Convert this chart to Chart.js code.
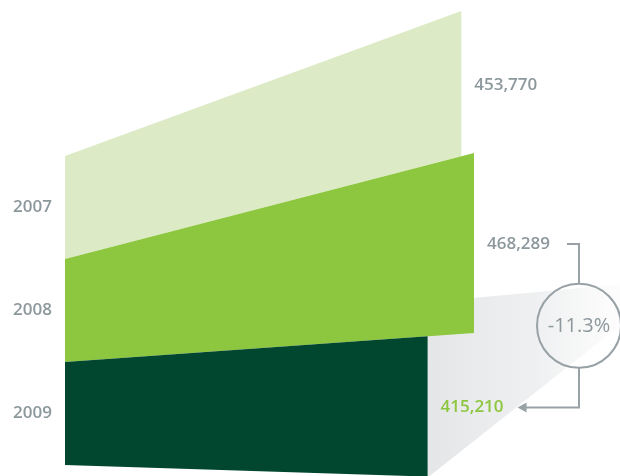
<!DOCTYPE html>
<html>
<head>
<meta charset="utf-8">
<script src="https://cdn.jsdelivr.net/npm/chart.js@4.4.1/dist/chart.umd.min.js"></script>
<style>
  html, body { margin: 0; padding: 0; background: #ffffff; }
  canvas { display: block; }
</style>
</head>
<body>
<canvas id="c" width="620" height="476"></canvas>
<script>
// ---- data ----
const years = ['2007', '2008', '2009'];
const totals = [453770, 468289, 415210];

// ---- style ----
const barColors = ['#dcebc5', '#8dc63f', '#01462f'];
const valueColors = ['#8c989c', '#8c989c', '#8dc63f'];
const edgeSlopes = [-0.366, -0.259, -0.071, 0.032]; // slant of each bar edge (top of bar i, bottom = i+1)
const GRAY = '#8c989c';
const LINE = '#98a2a6';
const FONT = '"Open Sans", "Noto Sans", sans-serif';

const fmt = v => v.toLocaleString('en-US');

const skewPlugin = {
  id: 'skewBars',
  beforeDatasetsDraw(chart) {
    const ctx = chart.ctx;
    const meta = chart.getDatasetMeta(0);
    const W = chart.width;
    const bars = meta.data.map(el => el.getProps(['x', 'y', 'base', 'height'], true));
    const geo = bars.map((b, i) => {
      const top = b.y - b.height / 2, bot = b.y + b.height / 2;
      const w = b.x - b.base;
      return {
        l: b.base, r: b.x,
        tl: top, bl: bot,
        tr: top + edgeSlopes[i] * w,
        br: bot + edgeSlopes[i + 1] * w
      };
    });

    // shadow behind last bar
    const g9 = geo[2];
    ctx.save();
    const grad = ctx.createLinearGradient(g9.r, 0, W - 10, 0);
    grad.addColorStop(0, 'rgba(228,230,231,1)');
    grad.addColorStop(0.6, 'rgba(239,240,241,1)');
    grad.addColorStop(1, 'rgba(252,252,252,1)');
    ctx.fillStyle = grad;
    ctx.beginPath();
    ctx.moveTo(g9.r, g9.tr - 34);
    ctx.lineTo(W, g9.tr - 52);
    ctx.lineTo(W, g9.br - 151);
    ctx.lineTo(g9.r, g9.br + 1);
    ctx.closePath();
    ctx.fill();
    ctx.restore();

    // bars
    geo.forEach((g, i) => {
      ctx.save();
      ctx.fillStyle = barColors[i];
      ctx.beginPath();
      ctx.moveTo(g.l, g.tl);
      ctx.lineTo(g.r, g.tr);
      ctx.lineTo(g.r, g.br);
      ctx.lineTo(g.l, g.bl);
      ctx.closePath();
      ctx.fill();
      ctx.restore();
    });

    // value labels
    const labelPos = [];
    ctx.save();
    ctx.font = '600 17px ' + FONT;
    ctx.textBaseline = 'middle';
    ctx.textAlign = 'left';
    geo.forEach((g, i) => {
      const y = (g.tr + g.br) / 2 + 1;
      const x = g.r + 13;
      ctx.fillStyle = valueColors[i];
      const t = fmt(totals[i]);
      ctx.fillText(t, x, y);
      labelPos.push({ x, y, w: ctx.measureText(t).width });
    });
    ctx.restore();

    // change annotation
    const a = labelPos[1], b = labelPos[2];
    const cx = 579, cy = (a.y + b.y) / 2, R = 42;
    ctx.save();
    ctx.strokeStyle = LINE;
    ctx.lineWidth = 2;
    ctx.beginPath();
    ctx.moveTo(cx - 12, a.y);
    ctx.lineTo(cx, a.y);
    ctx.lineTo(cx, cy - R);
    ctx.stroke();
    ctx.beginPath();
    ctx.arc(cx, cy, R, 0, Math.PI * 2);
    ctx.stroke();
    const tip = b.x + b.w + 14;
    ctx.beginPath();
    ctx.moveTo(cx, cy + R);
    ctx.lineTo(cx, b.y);
    ctx.lineTo(tip + 6, b.y);
    ctx.stroke();
    ctx.fillStyle = LINE;
    ctx.beginPath();
    ctx.moveTo(tip, b.y);
    ctx.lineTo(tip + 9, b.y - 5);
    ctx.lineTo(tip + 9, b.y + 5);
    ctx.closePath();
    ctx.fill();
    const pct = (totals[2] - totals[1]) / totals[1] * 100;
    ctx.fillStyle = GRAY;
    ctx.font = '400 20px ' + FONT;
    ctx.textAlign = 'center';
    ctx.textBaseline = 'middle';
    ctx.fillText((pct < 0 ? '-' : '+') + Math.abs(pct).toFixed(1) + '%', cx, cy + 1);
    ctx.restore();

    return false;
  }
};

new Chart(document.getElementById('c'), {
  type: 'bar',
  data: {
    labels: years,
    datasets: [{
      data: totals,
      backgroundColor: barColors,
      categoryPercentage: 1,
      barPercentage: 1
    }]
  },
  options: {
    indexAxis: 'y',
    responsive: false,
    animation: false,
    layout: { padding: { left: 0, top: 156, bottom: 11, right: 31 } },
    plugins: { legend: { display: false }, tooltip: { enabled: false } },
    scales: {
      x: { type: 'linear', min: 0, max: 600000, display: false },
      y: {
        grid: { display: false, tickLength: 13 },
        border: { display: false },
        ticks: {
          color: GRAY,
          padding: 0,
          font: { family: FONT, size: 17, weight: '600' }
        },
        afterFit(s) { s.width = 65; }
      }
    }
  },
  plugins: [skewPlugin]
});
</script>
</body>
</html>
